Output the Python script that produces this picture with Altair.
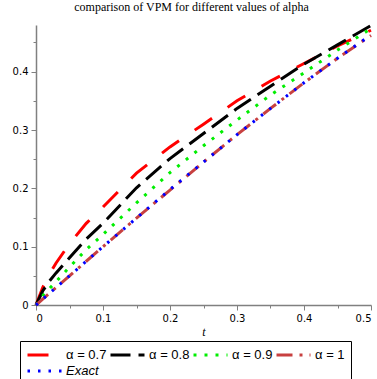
import altair as alt
import pandas as pd

T = [0, 0.01, 0.02, 0.03, 0.05, 0.075, 0.1, 0.15, 0.2, 0.25, 0.3, 0.35, 0.4, 0.45, 0.5]
A07 = [0, 0.03, 0.053, 0.072, 0.105, 0.14, 0.168, 0.226, 0.271, 0.31, 0.35, 0.384, 0.414, 0.444, 0.471]
A08 = [0, 0.024, 0.041, 0.055, 0.081, 0.113, 0.14, 0.201, 0.251, 0.294, 0.337, 0.375, 0.413, 0.446, 0.479]
A09 = [0, 0.016, 0.028, 0.04, 0.065, 0.095, 0.121, 0.175, 0.227, 0.273, 0.317, 0.36, 0.398, 0.437, 0.474]
A10 = [0, 0.01, 0.02, 0.03, 0.05, 0.075, 0.1, 0.149, 0.197, 0.245, 0.292, 0.337, 0.381, 0.423, 0.462]
EXACT = [0, 0.01, 0.02, 0.03, 0.05, 0.075, 0.1, 0.149, 0.198, 0.245, 0.292, 0.337, 0.381, 0.423, 0.463]

NAMES = ["α = 0.7", "α = 0.8", "α = 0.9", "α = 1", "Exact"]
SERIES = [A07, A08, A09, A10, EXACT]
COLORS = ["#ff0000", "#000000", "#00ee00", "#c84040", "#0000ff"]
DASHES = [[21, 19], [20, 8], [3, 8], [16, 7, 3, 7], [2.5, 8]]

X_TICKS = [0, 0.05, 0.1, 0.15, 0.2, 0.25, 0.3, 0.35, 0.4, 0.45, 0.5]
Y_TICKS = [0, 0.05, 0.1, 0.15, 0.2, 0.25, 0.3, 0.35, 0.4, 0.45]

rows = []
for i, (name, vals) in enumerate(zip(NAMES, SERIES)):
    for t, v in zip(T, vals):
        rows.append({"t": t, "v": v, "series": name, "k": i})
df = pd.DataFrame(rows)

major = "abs(datum.value*10 - round(datum.value*10)) < 0.001"

def axis(values, title, **kw):
    return alt.Axis(
        values=values,
        title=title,
        grid=False,
        domainColor="#808080",
        domainWidth=1.5,
        tickColor="#808080",
        tickWidth=1,
        tickSize={"condition": {"test": major, "value": 5}, "value": 3},
        labelExpr=f"{major} ? datum.label : ''",
        labelFont="DejaVu Sans",
        labelFontSize=10,
        labelColor="black",
        labelPadding=3,
        format="~g",
        **kw,
    )

chart = (
    alt.Chart(df)
    .mark_line(strokeWidth=3, strokeCap="butt")
    .encode(
        x=alt.X("t:Q", scale=alt.Scale(domain=[0, 0.5], nice=False),
                axis=axis(X_TICKS, "t", titleFont="Liberation Serif", titleFontStyle="italic",
                          titleFontWeight="normal", titleFontSize=12, titlePadding=3)),
        y=alt.Y("v:Q", scale=alt.Scale(domain=[0, 0.48], nice=False),
                axis=axis(Y_TICKS, None)),
        color=alt.Color(
            "series:N",
            scale=alt.Scale(domain=NAMES, range=COLORS),
            legend=alt.Legend(
                title=None,
                orient="none",
                legendX=-16,
                legendY=316,
                direction="horizontal",
                columns=4,
                symbolType="stroke",
                symbolSize=1156,
                symbolStrokeWidth=3,
                clipHeight=16,
                labelOffset=3,
                columnPadding=2,
                rowPadding=0,
                padding=6,
                strokeColor="black",
                fillColor="white",
                labelFont="Liberation Sans",
                labelFontSize=13,
                labelColor="black",
                labelFontStyle={"expr": "datum.label == 'Exact' ? 'italic' : 'normal'"},
                labelLimit=0,
            ),
        ),
        strokeDash=alt.StrokeDash(
            "series:N",
            scale=alt.Scale(domain=NAMES, range=DASHES),
            legend=None,
        ),
        order="t:Q",
        detail="k:O",
    )
    .properties(
        width=335,
        height=280,
        title=alt.Title(
            "comparison of VPM for different values of alpha",
            font="Liberation Serif",
            fontSize=12,
            fontWeight="normal",
            color="black",
            offset=6,
            dx=-12,
        ),
        autosize=alt.AutoSizeParams(type="none"),
        padding={"left": 36, "top": 25, "right": 6, "bottom": 74},
    )
    .configure_view(stroke=None)
)

chart.save("out.html", embed_options={"renderer": "svg", "actions": False})
